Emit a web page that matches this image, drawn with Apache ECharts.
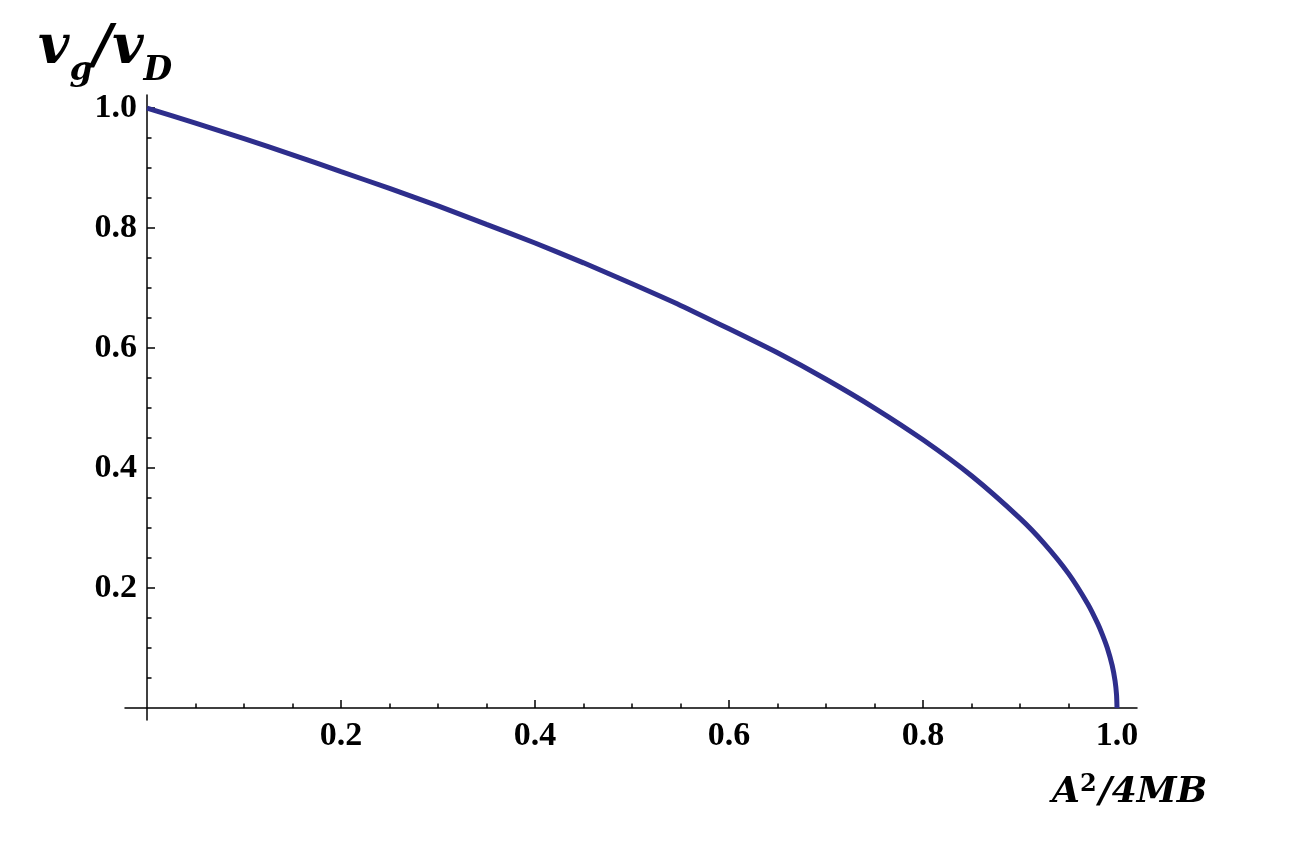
<!DOCTYPE html>
<html><head><meta charset="utf-8">
<script src="https://cdn.jsdelivr.net/npm/echarts@6/dist/echarts.min.js"></script>
<style>html,body{margin:0;padding:0;background:#fff}#c{width:1289px;height:844px}</style>
</head><body><div id="c"></div>
<script>
var xValues = [0, 0.05, 0.1, 0.15, 0.2, 0.25, 0.3, 0.35, 0.4, 0.45, 0.5, 0.55, 0.6, 0.65, 0.7, 0.75, 0.8, 0.85, 0.9, 0.925, 0.95, 0.97, 0.98, 0.985, 0.99, 0.995, 0.998, 0.9995, 1.0];
var yValues = [1.0, 0.975, 0.949, 0.922, 0.894, 0.866, 0.837, 0.806, 0.775, 0.742, 0.707, 0.671, 0.632, 0.592, 0.548, 0.5, 0.447, 0.387, 0.316, 0.274, 0.224, 0.173, 0.141, 0.122, 0.1, 0.071, 0.045, 0.022, 0.0];
var majorTicks = [0.2, 0.4, 0.6, 0.8, 1.0];
var minorTicks = [0.05, 0.1, 0.15, 0.25, 0.3, 0.35, 0.45, 0.5, 0.55, 0.65, 0.7, 0.75, 0.85, 0.9, 0.95];
var tickLabels = ['0.2', '0.4', '0.6', '0.8', '1.0'];

var data = xValues.map(function (x, i) { return [x, yValues[i]]; });
var lblFont = {fontFamily: 'Liberation Serif', fontWeight: 'bold', fontSize: 34, color: '#000'};
function fmt(v) { var i = majorTicks.indexOf(Math.round(v * 100) / 100); return i >= 0 ? tickLabels[i] : ''; }

var chart = echarts.init(document.getElementById('c'));
var axLine = {onZero: true, lineStyle: {color: '#000', width: 1.5}};
chart.setOption({
  animation: false,
  grid: {left: 125, right: 152, top: 95, bottom: 124},
  xAxis: [{
    type: 'value', min: -0.0227, max: 1.0206,
    axisLine: axLine, splitLine: {show: false},
    axisTick: {inside: true, length: 8, customValues: majorTicks, lineStyle: {color: '#000', width: 1.5}},
    axisLabel: Object.assign({customValues: majorTicks, margin: -1, formatter: fmt}, lblFont)
  }, {
    type: 'value', min: -0.0227, max: 1.0206, position: 'bottom',
    axisLine: {show: false}, splitLine: {show: false}, axisLabel: {show: false},
    axisTick: {inside: true, length: 4.5, customValues: minorTicks, lineStyle: {color: '#000', width: 1.5}}
  }],
  yAxis: [{
    type: 'value', min: -0.02, max: 1.0217,
    axisLine: axLine, splitLine: {show: false},
    axisTick: {inside: true, length: 8, customValues: majorTicks, lineStyle: {color: '#000', width: 1.5}},
    axisLabel: Object.assign({customValues: majorTicks, margin: -12, formatter: fmt}, lblFont)
  }, {
    type: 'value', min: -0.02, max: 1.0217, position: 'left',
    axisLine: {show: false}, splitLine: {show: false}, axisLabel: {show: false},
    axisTick: {inside: true, length: 4.5, customValues: minorTicks, lineStyle: {color: '#000', width: 1.5}}
  }],
  graphic: [
    {type: 'text', left: 38, top: 22, style: {
      text: '{m|v}{s|g}{m|/v}{s|D}',
      rich: {
        m: {fontFamily: 'DejaVu Serif', fontStyle: 'italic', fontWeight: 'bold', fontSize: 54, fill: '#000', verticalAlign: 'bottom'},
        s: {fontFamily: 'DejaVu Serif', fontStyle: 'italic', fontWeight: 'bold', fontSize: 33, fill: '#000', padding: [0, 0, -12, 0], verticalAlign: 'bottom'}
      }}},
    {type: 'text', left: 1052, top: 773, style: {
      text: '{m|A}{p|2}{m|/4MB}',
      rich: {
        m: {fontFamily: 'DejaVu Serif', fontStyle: 'italic', fontWeight: 'bold', fontSize: 36, fill: '#000', verticalAlign: 'bottom'},
        p: {fontFamily: 'DejaVu Serif', fontWeight: 'bold', fontSize: 24, fill: '#000', padding: [0, 2, 14, 0], verticalAlign: 'bottom'}
      }}}
  ],
  series: [{
    type: 'line', xAxisIndex: 0, yAxisIndex: 0, data: data, showSymbol: false,
    smooth: 0.2, clip: false,
    lineStyle: {color: '#2e2e8c', width: 5}
  }]
});
</script></body></html>
